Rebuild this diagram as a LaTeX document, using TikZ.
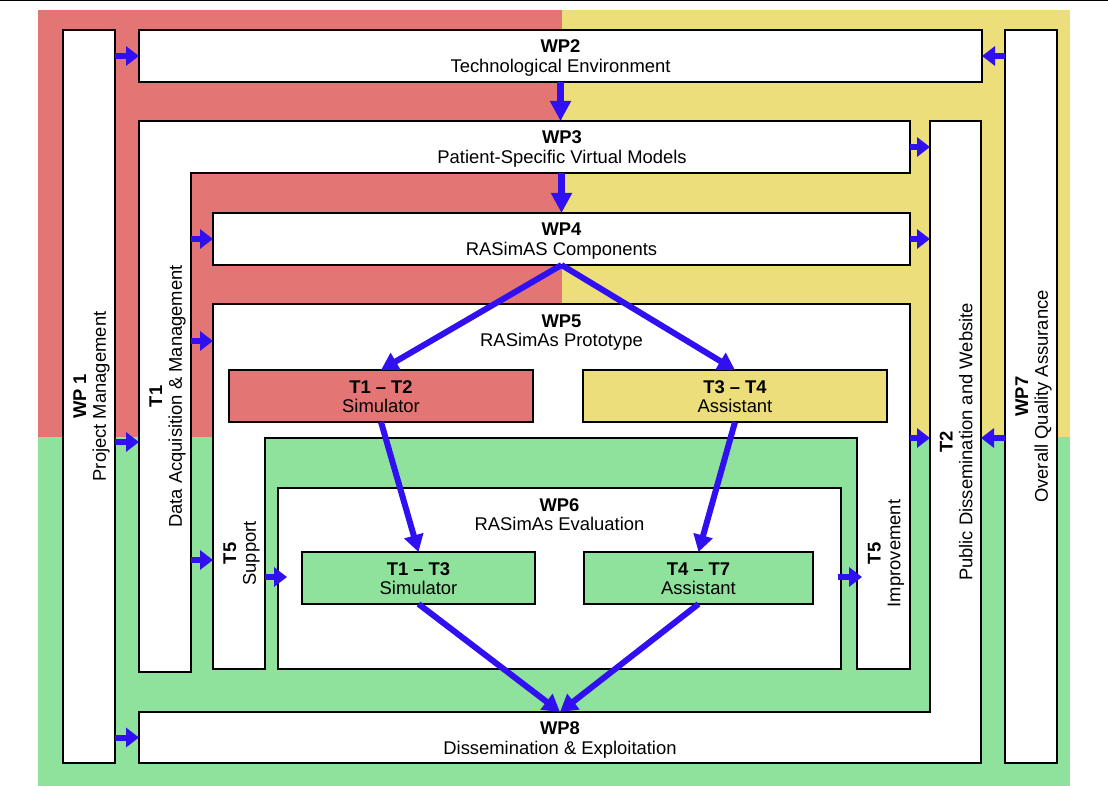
\documentclass[tikz,border=0pt]{standalone}
\usepackage{fontspec}
\setmainfont{Liberation Sans}
\usepackage{graphicx}
\usepackage{tikz}
\usetikzlibrary{calc,arrows.meta}

\definecolor{wpred}{RGB}{228,117,117}
\definecolor{wpyellow}{RGB}{236,222,122}
\definecolor{wpgreen}{RGB}{142,226,155}
\definecolor{wpblue}{RGB}{48,16,240}

\newcommand{\uplabel}[2]{\rotatebox{90}{\begin{tabular}{@{}c@{}}\rule{0pt}{19.74pt}\textbf{#1}\\#2\end{tabular}}}

\tikzset{
  lines/.style={align=center, text height=37.6pt, text depth=4pt},
  box/.style={draw, fill=white, line width=1.2pt, inner sep=0pt, outer sep=0pt, lines},
  vbox/.style={draw, fill=white, line width=1.2pt, inner sep=0pt, outer sep=0pt},
  part/.style={fill=white, inner sep=0pt, outer sep=0pt},
  rim/.style={draw, line width=1.2pt},
  title/.style={inner sep=0pt, lines},
  stub/.style={wpblue, line width=6pt, -{Triangle[width=19pt,length=13pt]}},
  drop/.style={wpblue, line width=7pt, -{Triangle[width=20pt,length=20pt]}},
  flow/.style={wpblue, line width=6pt, -{Triangle[width=19pt,length=17pt]}}
}

\begin{document}
\begin{tikzpicture}[x=1pt, y=-1pt, font=\fontsize{18.4}{19.8}\selectfont]
  \useasboundingbox (0,0) rectangle (1108,786);
  \fill[wpred] (38,10) rectangle (562,437);
  \fill[wpyellow] (562,10) rectangle (1070,437);
  \fill[wpgreen] (38,437) rectangle (1070,786);
  \draw[line width=1.5pt] (0,0.75) -- (1108,0.75);

  \node[vbox, minimum width=52pt, minimum height=733pt] (wp1) at (89,396.5) {\uplabel{WP 1}{Project Management}};
  \node[box, minimum width=843pt, minimum height=52pt] (wp2) at (560.5,56) {\textbf{WP2}\\Technological Environment};
  \node[vbox, minimum width=52pt, minimum height=733pt] (wp7) at (1031,396.5) {\uplabel{WP7}{Overall Quality Assurance}};

  \node[part, minimum width=52pt, minimum height=551pt] (t1) at (165,396.5) {\uplabel{T1}{Data Acquisition \& Management}};
  \node[part, minimum width=771pt, minimum height=52pt] (wp3) at (524.5,147) {};
  \draw[rim] (t1.south west) |- (wp3.north east) |- (t1.east |- wp3.south) -- (t1.south east) -- cycle;
  \node[title] (wp3t) at (562,147) {\textbf{WP3}\\Patient-Specific Virtual Models};

  \node[part, minimum width=51pt, minimum height=642pt] (t2) at (955.5,442) {\uplabel{T2}{Public Dissemination and Website}};
  \node[part, lines, minimum width=842pt, minimum height=51pt] (wp8) at (560,737.5) {\textbf{WP8}\\Dissemination \& Exploitation};
  \draw[rim] (wp8.north west) -- (t2.west |- wp8.north) -- (t2.north west) -- (t2.north east) -- (wp8.south east) -- (wp8.south west) -- cycle;

  \node[box, minimum width=697pt, minimum height=52pt] (wp4) at (561.5,239) {\textbf{WP4}\\RASimAS Components};

  \node[part, minimum width=697pt, minimum height=134pt] (wp5) at (561.5,371) {};
  \node[part, minimum width=52pt, minimum height=231pt] (t5s) at (239,553.5) {\uplabel{T5}{Support}};
  \node[part, minimum width=53pt, minimum height=231pt] (t5i) at (883.5,553.5) {\uplabel{T5}{Improvement}};
  \draw[rim] (t5s.south west) -- (wp5.north west) -- (wp5.north east) -- (t5i.south east) -- (t5i.south west) -- (t5i.north west) -- (t5s.north east) -- (t5s.south east) -- cycle;
  \node[title] (wp5t) at (561.5,330) {\textbf{WP5}\\RASimAs Prototype};
  \node[box, fill=wpred, minimum width=304pt, minimum height=52pt] (sim1) at (381,396) {\textbf{T1 – T2}\\Simulator};
  \node[box, fill=wpyellow, minimum width=304pt, minimum height=52pt] (asst1) at (735,396) {\textbf{T3 – T4}\\Assistant};

  \node[vbox, minimum width=563pt, minimum height=181pt] (wp6) at (559.5,578.5) {};
  \node[title] (wp6t) at (559.5,514) {\textbf{WP6}\\RASimAs Evaluation};
  \node[box, fill=wpgreen, minimum width=233pt, minimum height=52pt] (sim2) at (418.5,578) {\textbf{T1 – T3}\\Simulator};
  \node[box, fill=wpgreen, minimum width=229pt, minimum height=52pt] (asst2) at (698.5,578) {\textbf{T4 – T7}\\Assistant};

  \path[stub]
    (wp1.east |- wp2) edge (wp2.west)
    (wp7.west |- wp2) edge (wp2.east)
    (wp3.east) edge (t2.west |- wp3)
    (wp4.east) edge (t2.west |- wp4)
    (t5i.north east) edge (t2.west |- t5i.north)
    (wp7.west |- t5i.north) edge (t2.east |- t5i.north)
    (wp1.east |- t2) edge (t1.west |- t2)
    (t1.east |- wp4) edge (wp4.west)
    (t1.east |- 0,341) edge (wp5.west |- 0,341)
    (t1.east |- 0,560) edge (t5s.west |- 0,560)
    (t5s.east |- 0,577) edge ($(wp6.west |- 0,577)+(9,0)$)
    ($(wp6.east |- 0,577)+(-3,0)$) edge ($(t5i.west |- 0,577)+(5,0)$)
    (wp1.east |- wp8) edge (wp8.west);
  \path[drop]
    (wp2.south) edge (wp2.south |- wp3.north)
    (wp4.north |- wp3.south) edge (wp4.north);
  \path[flow]
    (wp4.south) edge (sim1.north)
    (wp4.south) edge (asst1.north)
    (sim1.south) edge (sim2.north)
    (asst1.south) edge (asst2.north)
    (sim2.south) edge (wp8.north)
    (asst2.south) edge (wp8.north);
\end{tikzpicture}
\end{document}
